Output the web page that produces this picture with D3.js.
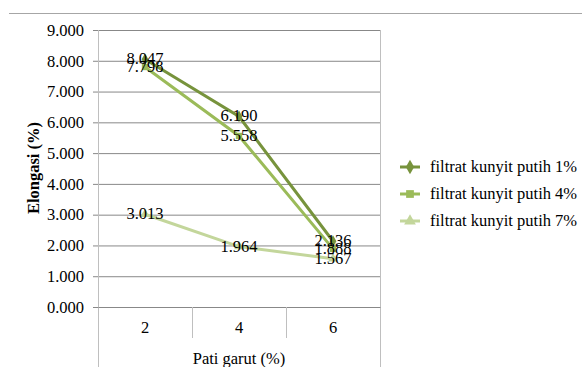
<!DOCTYPE html>
<html>
<head>
<meta charset="utf-8">
<script src="https://cdn.jsdelivr.net/npm/d3@7"></script>
<style>
  body { margin: 0; background: #fff; }
  text { font-family: "Liberation Serif", "Times New Roman", serif; fill: #000; }
</style>
</head>
<body>
<div class="chart"></div>
<script>
var categories = ["2", "4", "6"];
var seriesNames = ["filtrat kunyit putih 1%", "filtrat kunyit putih 4%", "filtrat kunyit putih 7%"];
var s1 = [8.047, 6.190, 2.136];
var s2 = [7.798, 5.558, 1.888];
var s3 = [3.013, 1.964, 1.567];
var yTicks = [0, 1, 2, 3, 4, 5, 6, 7, 8, 9];
var colors = ["#77933C", "#9BBB59", "#C3D69B"];
var symbols = [d3.symbolDiamond, d3.symbolSquare, d3.symbolTriangle];

var series = [s1, s2, s3].map(function(v, i) {
  return { name: seriesNames[i], values: v, color: colors[i], symbol: symbols[i] };
});

var W = 582, H = 367;
var plotL = 98, plotR = 380, plotT = 30, plotB = 307;
var fs = "16.5px";

var svg = d3.select(".chart").append("svg")
  .attr("width", W).attr("height", H);

// top border line of chart area
svg.append("line")
  .attr("x1", 9).attr("x2", W).attr("y1", 13.5).attr("y2", 13.5)
  .attr("stroke", "#a6a6a6").attr("stroke-width", 1);

var x = d3.scaleBand().domain(categories).range([plotL, plotR]);
var y = d3.scaleLinear().domain([0, 9]).range([plotB, plotT]);

// grid
var gGrid = svg.append("g")
  .attr("transform", "translate(" + plotL + ",0)")
  .call(d3.axisLeft(y).tickValues(yTicks).tickSize(-(plotR - plotL)).tickFormat(""));
gGrid.select(".domain").remove();
gGrid.selectAll(".tick line").attr("stroke", "#888");

// y axis
var gY = svg.append("g")
  .attr("transform", "translate(" + plotL + ",0)")
  .call(d3.axisLeft(y).tickValues(yTicks).tickSize(5).tickPadding(9)
    .tickFormat(d3.format(".3f")));
gY.select(".domain").remove();
gY.selectAll(".tick line").attr("stroke", "#888");
gY.selectAll("text").style("font-size", fs);

// left and right border of plot
svg.append("line")
  .attr("x1", plotL + 0.5).attr("x2", plotL + 0.5).attr("y1", plotT).attr("y2", H)
  .attr("stroke", "#bfbfbf");
svg.append("line")
  .attr("x1", plotR + 0.5).attr("x2", plotR + 0.5).attr("y1", plotT).attr("y2", H)
  .attr("stroke", "#bfbfbf");

// x axis with separators between categories
var gX = svg.append("g")
  .attr("transform", "translate(0," + plotB + ")")
  .call(d3.axisBottom(x).tickSize(0).tickPadding(14));
gX.select(".domain").attr("stroke", "#888");
gX.selectAll("text").style("font-size", fs);

gX.selectAll(".sep")
  .data(categories.slice(1))
  .enter().append("line")
  .attr("x1", function(d) { return Math.round(x(d)) + 0.5; })
  .attr("x2", function(d) { return Math.round(x(d)) + 0.5; })
  .attr("y1", 0).attr("y2", 31)
  .attr("stroke", "#bfbfbf");

// axis titles
svg.append("text")
  .attr("x", (plotL + plotR) / 2).attr("y", 364)
  .attr("text-anchor", "middle")
  .style("font-size", fs)
  .text("Pati garut (%)");

svg.append("text")
  .attr("transform", "translate(39,168) rotate(-90)")
  .attr("text-anchor", "middle")
  .style("font-size", fs)
  .style("font-weight", "bold")
  .text("Elongasi (%)");

// lines
var line = d3.line()
  .x(function(d, i) { return x(categories[i]) + x.bandwidth() / 2; })
  .y(function(d) { return y(d); });

series.slice().reverse().forEach(function(s) {
  svg.append("path")
    .datum(s.values)
    .attr("fill", "none")
    .attr("stroke", s.color)
    .attr("stroke-width", 3)
    .attr("d", line);
  svg.selectAll(null)
    .data(s.values)
    .enter().append("path")
    .attr("transform", function(d, i) {
      return "translate(" + (x(categories[i]) + x.bandwidth() / 2) + "," + y(d) + ")";
    })
    .attr("d", d3.symbol().type(s.symbol).size(40))
    .attr("fill", s.color);
});

// data labels
series.forEach(function(s) {
  svg.selectAll(null)
    .data(s.values)
    .enter().append("text")
    .attr("x", function(d, i) { return x(categories[i]) + x.bandwidth() / 2; })
    .attr("y", function(d) { return y(d) + 5; })
    .attr("text-anchor", "middle")
    .style("font-size", fs)
    .text(function(d) { return d3.format(".3f")(d); });
});

// legend
var legend = svg.append("g");
var rows = legend.selectAll("g")
  .data(series)
  .enter().append("g")
  .attr("transform", function(d, i) { return "translate(400," + (167 + i * 27) + ")"; });
rows.append("line")
  .attr("x1", 0).attr("x2", 20).attr("y1", 0).attr("y2", 0)
  .attr("stroke", function(d) { return d.color; })
  .attr("stroke-width", 3);
rows.append("path")
  .attr("transform", "translate(10,0)")
  .attr("d", function(d) { return d3.symbol().type(d.symbol).size(60)(); })
  .attr("fill", function(d) { return d.color; });
rows.append("text")
  .attr("x", 30).attr("y", 5)
  .style("font-size", fs)
  .text(function(d) { return d.name; });
</script>
</body>
</html>
